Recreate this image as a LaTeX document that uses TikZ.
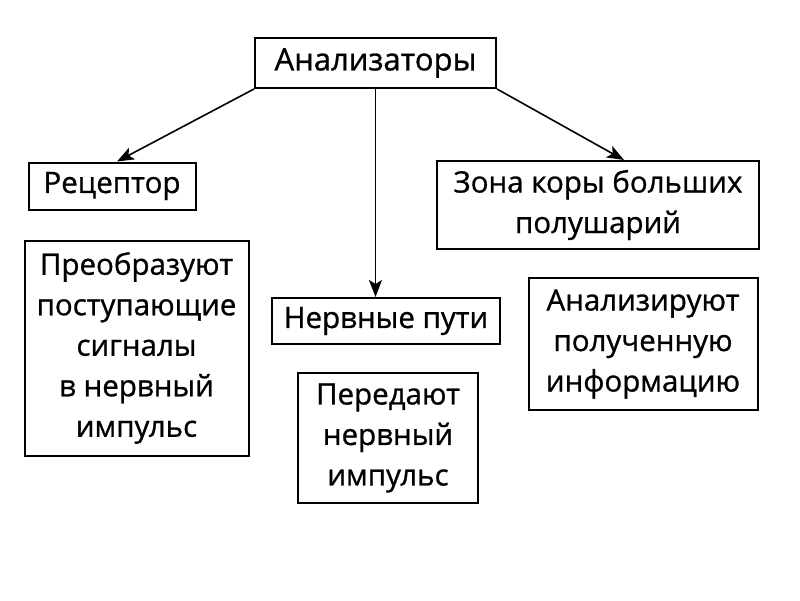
\documentclass[tikz,border=0pt]{standalone}
\usepackage{fontspec}
\setmainfont{Open Sans}[FakeBold=0.9]
\usetikzlibrary{arrows.meta}
\begin{document}
\begin{tikzpicture}[x=1pt,y=-1pt,
  box/.style={draw, line width=2pt, inner sep=0pt, align=center, font=\fontsize{29.5}{40.5}\selectfont},
  arr/.style={line width=1.6pt, -{Stealth[length=17pt,width=13pt,inset=4pt]}}]
\useasboundingbox (0,0) rectangle (800,600);
\node[box, minimum width=241, minimum height=50, font=\fontsize{31}{39}\selectfont] (an) at (375.5,63) {Анализаторы};
\node[box, minimum width=167, minimum height=47] (rec) at (112,186) {Рецептор};
\node[box, minimum width=322, minimum height=88] (zona) at (598,205) {Зона коры больших\\полушарий};
\node[box, minimum width=224, minimum height=215] (pre) at (136.5,348) {Преобразуют\\поступающие\\сигналы\\в нервный\\импульс};
\node[box, minimum width=228, minimum height=46] (np) at (386,321) {Нервные пути};
\node[box, minimum width=180, minimum height=130] (per) at (388,438) {Передают\\нервный\\импульс};
\node[box, minimum width=229, minimum height=132] (anz) at (643,344) {Анализируют\\полученную\\информацию};
\draw[arr] (an.south west) -- (rec.north -| 117,0);
\draw[arr] (an.south east) -- (zona.north -| 624,0);
\draw[arr] (an.south) -- (np.north -| an.south);
\end{tikzpicture}
\end{document}
